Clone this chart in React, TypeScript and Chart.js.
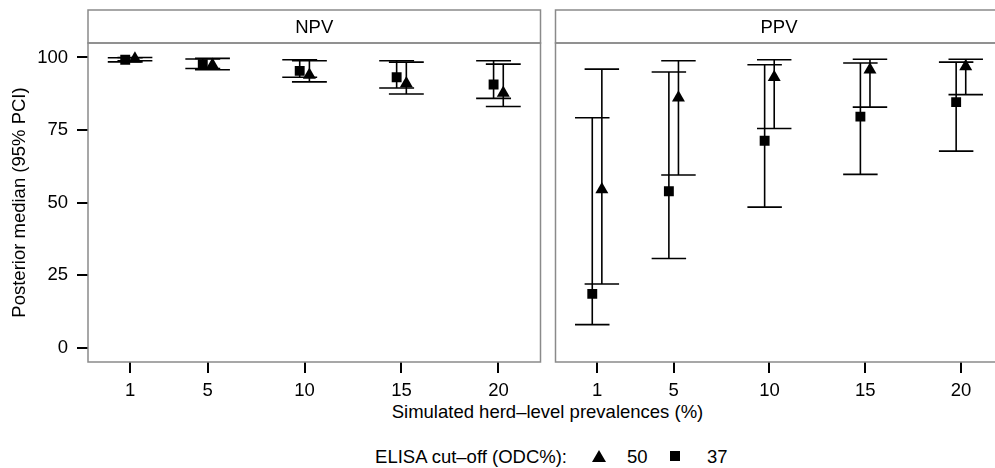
import React, { useEffect, useRef } from "react";
import { Chart, registerables } from "chart.js";

Chart.register(...registerables);

// ---------- data ----------
const prevalences = [1, 5, 10, 15, 20];
const yTicks = [0, 25, 50, 75, 100];
const panelLabels = ["NPV", "PPV"];
const cutoffLabels = ["50", "37"];

// NPV, cut-off 50 (triangle)
const npv50Median = [99.6, 97.4, 94.0, 91.0, 87.8];
const npv50Lower = [98.9, 95.8, 91.6, 87.4, 83.1];
const npv50Upper = [100.0, 99.7, 98.9, 98.4, 97.7];
// NPV, cut-off 37 (square)
const npv37Median = [99.2, 97.7, 95.4, 93.2, 90.7];
const npv37Lower = [98.5, 96.2, 93.2, 89.5, 85.9];
const npv37Upper = [99.9, 99.5, 99.2, 98.9, 98.9];

// PPV, cut-off 50 (triangle)
const ppv50Median = [54.5, 86.1, 93.2, 95.8, 96.9];
const ppv50Lower = [21.9, 59.5, 75.5, 82.9, 87.2];
const ppv50Upper = [96.0, 98.9, 99.2, 99.4, 99.4];
// PPV, cut-off 37 (square)
const ppv37Median = [18.5, 53.9, 71.3, 79.6, 84.6];
const ppv37Lower = [7.9, 30.7, 48.4, 59.7, 67.7];
const ppv37Upper = [79.2, 95.0, 97.5, 98.1, 98.4];

const yTitle = "Posterior median (95% PCI)";
const xTitle = "Simulated herd\u2013level prevalences (%)";
const legendTitle = "ELISA cut\u2013off (ODC%):";

// ---------- style ----------
const FONT = '"Liberation Sans", Arial, Helvetica, sans-serif';
const FS = 18.5;
const DODGE = 0.25;
const CAP = 0.9;
const FRAME = "#8a8a8a";

function makeDatasets(
  m50: number[], l50: number[], u50: number[],
  m37: number[], l37: number[], u37: number[]
) {
  return [
    {
      label: cutoffLabels[0],
      data: prevalences.map((p, i) => ({ x: p + DODGE, y: m50[i] })),
      lower: l50,
      upper: u50,
      pointStyle: "triangle",
      pointRadius: 7.5,
      backgroundColor: "#000",
      borderColor: "#000",
      borderWidth: 0,
      order: 0,
    },
    {
      label: cutoffLabels[1],
      data: prevalences.map((p, i) => ({ x: p - DODGE, y: m37[i] })),
      lower: l37,
      upper: u37,
      pointStyle: "rect",
      pointRadius: 7,
      backgroundColor: "#000",
      borderColor: "#000",
      borderWidth: 0,
      order: 1,
    },
  ];
}

const errorBarPlugin = {
  id: "errorBars",
  beforeDatasetsDraw(chart: any) {
    const ctx = chart.ctx;
    const xs = chart.scales.x;
    const ys = chart.scales.y;
    ctx.save();
    ctx.strokeStyle = "#000";
    ctx.lineWidth = 1.6;
    chart.data.datasets.forEach((ds: any) => {
      ds.data.forEach((p: any, i: number) => {
        const x = xs.getPixelForValue(p.x);
        const x1 = xs.getPixelForValue(p.x - CAP);
        const x2 = xs.getPixelForValue(p.x + CAP);
        const yl = ys.getPixelForValue(ds.lower[i]);
        const yh = ys.getPixelForValue(ds.upper[i]);
        ctx.beginPath();
        ctx.moveTo(x, yl);
        ctx.lineTo(x, yh);
        ctx.moveTo(x1, yl);
        ctx.lineTo(x2, yl);
        ctx.moveTo(x1, yh);
        ctx.lineTo(x2, yh);
        ctx.stroke();
      });
    });
    ctx.restore();
  },
};

function framePlugin(label: string) {
  return {
    id: "panelFrame",
    afterDraw(chart: any) {
      const { ctx, chartArea: a } = chart;
      const stripTop = 10;
      ctx.save();
      ctx.strokeStyle = FRAME;
      ctx.lineWidth = 1.5;
      ctx.strokeRect(a.left, a.top, a.right - a.left, a.bottom - a.top);
      ctx.strokeRect(a.left, stripTop, a.right - a.left, a.top - stripTop);
      ctx.fillStyle = "#000";
      ctx.font = `${FS}px ${FONT}`;
      ctx.textAlign = "center";
      ctx.textBaseline = "middle";
      ctx.fillText(label, (a.left + a.right) / 2, (stripTop + a.top) / 2 + 1);
      ctx.restore();
    },
  };
}

function makeConfig(label: string, datasets: any[], showY: boolean, padding: any) {
  const tickGrid = {
    display: true,
    drawOnChartArea: false,
    drawTicks: true,
    tickLength: 11,
    color: "#000",
    lineWidth: 2,
  };
  return {
    type: "scatter",
    data: { datasets },
    options: {
      responsive: false,
      animation: false,
      events: [],
      layout: { padding },
      plugins: { legend: { display: false }, tooltip: { enabled: false } },
      scales: {
        x: {
          type: "linear",
          min: -1.17,
          max: 22.17,
          afterBuildTicks: (s: any) => {
            s.ticks = prevalences.map((v) => ({ value: v }));
          },
          afterFit: (s: any) => {
            s.height = 38;
          },
          grid: tickGrid,
          border: { display: false },
          ticks: {
            color: "#000",
            font: { family: FONT, size: FS },
            padding: 7,
            maxRotation: 0,
            autoSkip: false,
            callback: (v: any) => String(v),
          },
        },
        y: {
          type: "linear",
          display: showY,
          min: -5,
          max: 105,
          afterBuildTicks: (s: any) => {
            s.ticks = yTicks.map((v) => ({ value: v }));
          },
          afterFit: (s: any) => {
            s.width = showY ? 88 : 0;
          },
          grid: tickGrid,
          border: { display: false },
          ticks: {
            color: "#000",
            font: { family: FONT, size: FS },
            padding: 9,
            callback: (v: any) => String(v),
          },
          title: {
            display: showY,
            text: yTitle,
            color: "#000",
            font: { family: FONT, size: FS },
            padding: { top: 9, bottom: 0 },
          },
        },
      },
    },
    plugins: [errorBarPlugin, framePlugin(label)],
  };
}

function Panel(props: { config: any; left: number; width: number; height: number }) {
  const ref = useRef<HTMLCanvasElement | null>(null);
  useEffect(() => {
    if (!ref.current) return;
    const chart = new Chart(ref.current, props.config);
    return () => chart.destroy();
  }, []);
  return (
    <canvas
      ref={ref}
      width={props.width}
      height={props.height}
      style={{
        position: "absolute",
        left: props.left,
        top: 0,
        width: props.width,
        height: props.height,
      }}
    />
  );
}

export default function App() {
  const npvConfig = makeConfig(
    panelLabels[0],
    makeDatasets(npv50Median, npv50Lower, npv50Upper, npv37Median, npv37Lower, npv37Upper),
    true,
    { top: 43, right: 5, left: 0, bottom: 0 }
  );
  const ppvConfig = makeConfig(
    panelLabels[1],
    makeDatasets(ppv50Median, ppv50Lower, ppv50Upper, ppv37Median, ppv37Lower, ppv37Upper),
    false,
    { top: 43, right: 3, left: 5, bottom: 0 }
  );
  const textStyle: React.CSSProperties = {
    position: "absolute",
    fontFamily: FONT,
    fontSize: FS,
    lineHeight: "20px",
    color: "#000",
    whiteSpace: "nowrap",
  };
  return (
    <div
      style={{
        position: "fixed",
        left: 0,
        top: 0,
        width: 995,
        height: 468,
        overflow: "hidden",
        background: "#fff",
      }}
    >
      <Panel config={npvConfig} left={0} width={548} height={400} />
      <Panel config={ppvConfig} left={548} width={462} height={400} />
      <div style={{ ...textStyle, left: 547.5, top: 402, transform: "translateX(-50%)" }}>{xTitle}</div>
      <div style={{ ...textStyle, right: 995 - 567, top: 447 }}>{legendTitle}</div>
      <div
        style={{
          position: "absolute",
          left: 599 - 7,
          top: 450,
          width: 0,
          height: 0,
          borderLeft: "7px solid transparent",
          borderRight: "7px solid transparent",
          borderBottom: "12px solid #000",
        }}
      />
      <div style={{ ...textStyle, left: 627, top: 447 }}>{cutoffLabels[0]}</div>
      <div
        style={{
          position: "absolute",
          left: 675 - 5,
          top: 451,
          width: 10,
          height: 10,
          background: "#000",
        }}
      />
      <div style={{ ...textStyle, left: 707, top: 447 }}>{cutoffLabels[1]}</div>
    </div>
  );
}
